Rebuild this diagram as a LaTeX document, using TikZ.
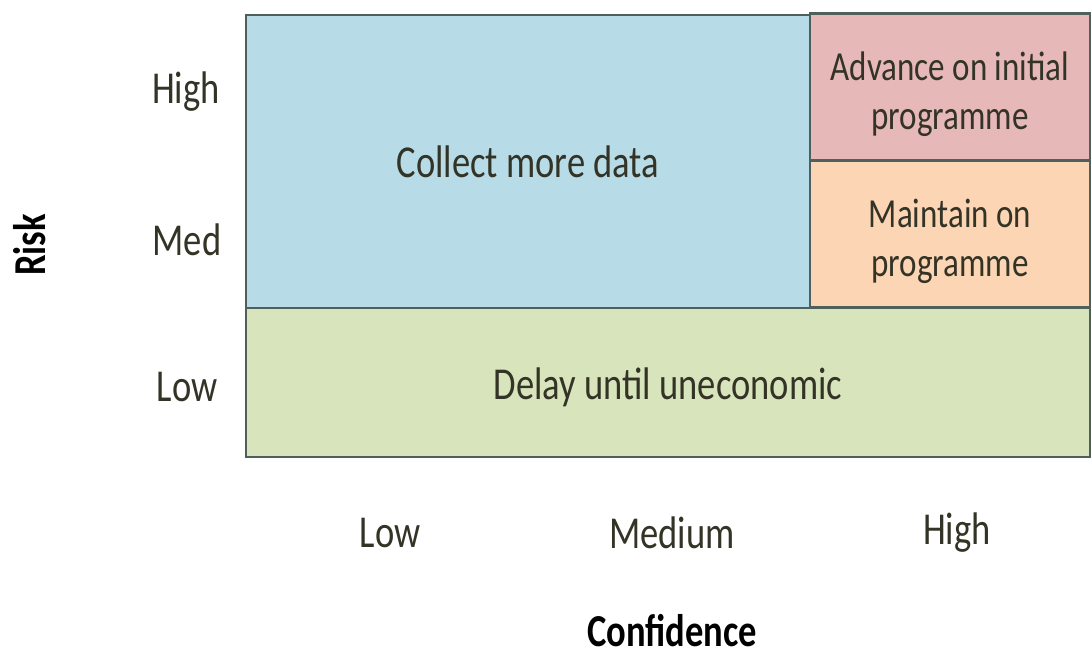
\documentclass[tikz,border=0pt]{standalone}
\usepackage{fontspec}
\setmainfont{Carlito}[FakeStretch=0.8]
\usetikzlibrary{positioning}
\definecolor{edge}{HTML}{4F5F5C}
\definecolor{collect}{HTML}{B7DCE8}
\definecolor{advance}{HTML}{E6B9B8}
\definecolor{maintain}{HTML}{FCD5B4}
\definecolor{delay}{HTML}{D8E4BC}
\definecolor{inktext}{HTML}{333326}

\begin{document}
\begin{tikzpicture}[font=\fontsize{26}{30}\selectfont, text=inktext,
  cell/.style={rectangle, draw=edge, line width=1.6pt, outer sep=0pt},
  small/.style={align=center, font=\fontsize{23.5}{28}\selectfont},
  axislabel/.style={font=\fontsize{26}{30}\selectfont\bfseries, text=black}
]
  \useasboundingbox (0,0) rectangle (21.82,13.22);

  \node[cell, fill=collect, minimum width=11.28cm, minimum height=5.88cm] (collect) at (10.56,9.98) {Collect more data};
  \node[cell, fill=advance, minimum width=5.6cm, minimum height=2.94cm] (advance) at (19.0,11.48) {};
  \node[cell, fill=maintain, minimum width=5.6cm, minimum height=2.94cm] (maintain) at (19.0,8.54) {};
  \node[cell, fill=delay, minimum width=16.88cm, minimum height=2.98cm] (delay) at (13.36,5.57) {};

  \node[small] (advtext) at ([yshift=-0.15cm]advance) {Advance on initial\\programme};
  \node[small] (maintext) at ([yshift=-0.14cm]maintain) {Maintain on\\programme};
  \node (delaytext) at ([yshift=-0.1cm]delay) {Delay until uneconomic};

  \node (rhigh) at (3.72,11.38) {High};
  \node (rmed) at (3.74,8.42) {Med};
  \node (rlow) at (3.74,5.48) {Low};

  \node (clow) at (7.8,2.56) {Low};
  \node (cmed) at (13.44,2.56) {Medium};
  \node (chigh) at (19.14,2.56) {High};

  \node[axislabel] (conf) at (13.44,0.6) {Confidence};
  \node[axislabel, rotate=90] (risk) at (0.6,8.32) {Risk};
\end{tikzpicture}
\end{document}
